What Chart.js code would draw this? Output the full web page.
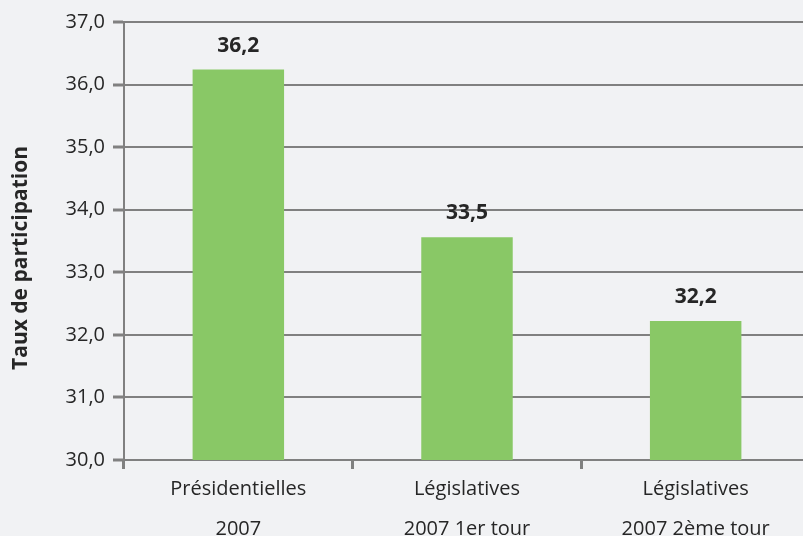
<!DOCTYPE html>
<html>
<head>
<meta charset="utf-8">
<script src="https://cdn.jsdelivr.net/npm/chart.js@4.4.0/dist/chart.umd.min.js"></script>
<style>
  html, body { margin: 0; padding: 0; background: #f1f2f4; overflow: hidden; }
  #wrap { width: 810px; height: 536px; }
</style>
</head>
<body>
<div id="wrap"><canvas id="participationChart"></canvas></div>
<script>
const categories = [
    ['Présidentielles', '2007'],
    ['Législatives', '2007 1er tour'],
    ['Législatives', '2007 2ème tour']
]
const participation = [36.24, 33.56, 32.22]
const yTicks = [30, 31, 32, 33, 34, 35, 36, 37]
const yTitle = 'Taux de participation'

const gridGray = '#808080'
const textColor = '#262626'

// bold value above each bar (decimal comma) + rotated y title
const valueLabels = {
    id: 'valueLabels',
    afterDatasetsDraw(chart) {
        const ctx = chart.ctx
        const meta = chart.getDatasetMeta(0)
        ctx.save()
        ctx.font = 'bold 21px "Open Sans"'
        ctx.fillStyle = textColor
        ctx.textAlign = 'center'
        ctx.textBaseline = 'middle'
        meta.data.forEach((bar, i) => {
            const v = Math.floor(participation[i] * 10) / 10
            ctx.fillText(v.toFixed(1).replace('.', ','), bar.x, bar.y - 24)
        })
        ctx.translate(21, 258)
        ctx.rotate(-Math.PI / 2)
        ctx.font = 'bold 21px "Open Sans"'
        ctx.fillText(yTitle, 0, 0)
        ctx.restore()
    }
}

const ctx = document.getElementById('participationChart').getContext('2d')

const participationChart = new Chart(ctx, {
    type: 'bar',
    data: {
        labels: categories,
        datasets: [{
            data: participation,
            backgroundColor: '#89c866',
            borderWidth: 0,
            barPercentage: 0.4,
            categoryPercentage: 1
        }]
    },
    options: {
        responsive: true,
        maintainAspectRatio: false,
        animation: false,
        layout: { padding: { top: 22, right: 0, left: 0, bottom: 0 } },
        plugins: {
            legend: { display: false },
            tooltip: { enabled: false }
        },
        scales: {
            x: {
                offset: true,
                afterFit(scale) { scale.height = 76 },
                grid: {
                    offset: true,
                    drawOnChartArea: false,
                    drawTicks: true,
                    tickLength: 9,
                    color: gridGray,
                    lineWidth: 3
                },
                border: { display: true, color: gridGray, width: 2 },
                ticks: {
                    color: textColor,
                    font: { family: 'Open Sans', size: 20, lineHeight: 2.0 },
                    padding: 0,
                    maxRotation: 0
                }
            },
            y: {
                min: 30,
                max: 37,
                afterFit(scale) { scale.width = 124 },
                afterBuildTicks(scale) { scale.ticks = yTicks.map(v => ({ value: v })) },
                grid: {
                    color: gridGray,
                    lineWidth: 2,
                    tickLength: 11,
                    tickWidth: 3
                },
                border: { display: true, color: gridGray, width: 2 },
                ticks: {
                    color: textColor,
                    font: { family: 'Open Sans', size: 20 },
                    padding: 8,
                    callback: v => v.toFixed(1).replace('.', ',')
                }
            }
        }
    },
    plugins: [valueLabels]
})
</script>
</body>
</html>
